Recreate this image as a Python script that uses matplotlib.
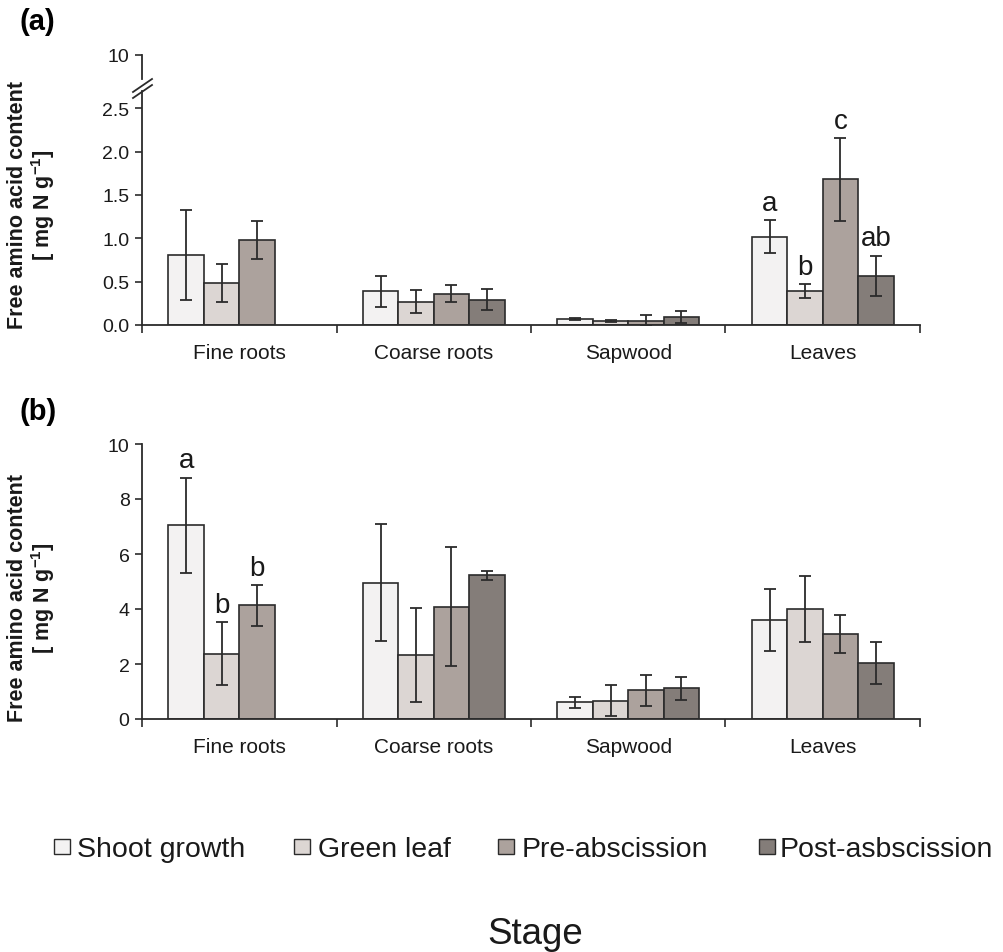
import numpy as np
import matplotlib
matplotlib.use("Agg")
import matplotlib.pyplot as plt
from matplotlib.patches import Rectangle
from matplotlib.lines import Line2D

plt.rcParams['font.family'] = ['Liberation Sans', 'DejaVu Sans']
plt.rcParams['mathtext.fontset'] = 'custom'
plt.rcParams['mathtext.rm'] = 'Liberation Sans'
plt.rcParams['mathtext.bf'] = 'Liberation Sans:bold'

organs = ["Fine roots", "Coarse roots", "Sapwood", "Leaves"]
stages = ["Shoot growth", "Green leaf", "Pre-abscission", "Post-asbscission"]
colors = ["#f3f2f2", "#dcd6d3", "#aca29d", "#847d79"]

# (a) mean and error per stage, one value per organ
a_shoot = [0.81, 0.39, 0.066, 1.02]
a_shoot_err = [0.52, 0.18, 0.01, 0.19]
a_green = [0.48, 0.27, 0.045, 0.39]
a_green_err = [0.22, 0.13, 0.015, 0.08]
a_pre = [0.98, 0.36, 0.05, 1.68]
a_pre_err = [0.22, 0.10, 0.065, 0.48]
a_post = [np.nan, 0.29, 0.096, 0.565]
a_post_err = [np.nan, 0.12, 0.07, 0.235]

# (b)
b_shoot = [7.05, 4.96, 0.61, 3.59]
b_shoot_err = [1.73, 2.14, 0.20, 1.12]
b_green = [2.37, 2.32, 0.67, 4.01]
b_green_err = [1.15, 1.70, 0.55, 1.20]
b_pre = [4.13, 4.09, 1.04, 3.08]
b_pre_err = [0.74, 2.17, 0.55, 0.69]
b_post = [np.nan, 5.23, 1.11, 2.04]
b_post_err = [np.nan, 0.17, 0.42, 0.77]

# significance letters: (organ index, stage index, letter)
a_letters = [(3, 0, "a"), (3, 1, "b"), (3, 2, "c"), (3, 3, "ab")]
b_letters = [(0, 0, "a"), (0, 1, "b"), (0, 2, "b")]

W, H = 1004, 953
fig = plt.figure(figsize=(W / 100, H / 100), dpi=100)


def px(x0, y_top, x1, y_bot):
    return [x0 / W, 1 - y_bot / H, (x1 - x0) / W, (y_bot - y_top) / H]


dark = "#2b2b2b"
bw = 0.182


def style(ax):
    for s in ["top", "right"]:
        ax.spines[s].set_visible(False)
    for s in ["left", "bottom"]:
        ax.spines[s].set_color(dark)
        ax.spines[s].set_linewidth(1.3)
    ax.tick_params(axis="y", direction="out", length=5, width=1.2,
                   color=dark, labelsize=14, pad=4, labelcolor="#1a1a1a")


def panel(ax, means, errs, letters):
    x = np.arange(len(organs)) + 0.5
    for i, (m, e) in enumerate(zip(means, errs)):
        xi = x + (i - 1.5) * bw
        ax.bar(xi, m, bw, color=colors[i], edgecolor=dark, linewidth=1.2,
               zorder=2)
        ax.errorbar(xi, m, yerr=e, fmt="none", ecolor=dark, elinewidth=1.3,
                    capsize=4, capthick=1.3, zorder=3)
    for o, s, t in letters:
        top = means[s][o] + errs[s][o]
        ax.annotate(t, (x[o] + (s - 1.5) * bw, top), xytext=(0, 3),
                    textcoords="offset points", ha="center", va="bottom",
                    fontsize=20, color="#1a1a1a")
    ax.set_xlim(0, len(organs))
    ax.set_xticks(np.arange(len(organs) + 1))
    ax.set_xticklabels([])
    ax.tick_params(axis="x", which="major", direction="out", length=6,
                   width=1.2, color=dark)
    ax.set_xticks(x, minor=True)
    ax.set_xticklabels(organs, minor=True)
    ax.tick_params(axis="x", which="minor", length=0, labelsize=15, pad=13,
                   labelcolor="#1a1a1a")
    style(ax)


# panel (a): broken axis, lower part 0-2.5 and a stub at 10
ax_a = fig.add_axes(px(142, 92, 920, 326))
panel(ax_a, [a_shoot, a_green, a_pre, a_post],
      [a_shoot_err, a_green_err, a_pre_err, a_post_err], a_letters)
ax_a.set_ylim(0, 2.70)
ax_a.set_yticks([0, 0.5, 1.0, 1.5, 2.0, 2.5])
ax_a.set_yticklabels(["0.0", "0.5", "1.0", "1.5", "2.0", "2.5"])

ax_top = fig.add_axes(px(142, 56, 920, 80))
ax_top.set_ylim(9.0, 10)
ax_top.set_xlim(0, 1)
ax_top.set_xticks([])
ax_top.set_yticks([10])
ax_top.patch.set_visible(False)
style(ax_top)
ax_top.spines["bottom"].set_visible(False)

# break marks on the y axis
for dy in (0, 6):
    fig.add_artist(Line2D([133 / W, 152 / W],
                          [1 - (93 + dy) / H, 1 - (80 + dy) / H],
                          color=dark, linewidth=1.3))

# panel (b)
ax_b = fig.add_axes(px(142, 445, 920, 720))
panel(ax_b, [b_shoot, b_green, b_pre, b_post],
      [b_shoot_err, b_green_err, b_pre_err, b_post_err], b_letters)
ax_b.set_ylim(0, 10)
ax_b.set_yticks([0, 2, 4, 6, 8, 10])

ylab = "Free amino acid content\n[ mg N g$^{\\mathbf{-1}}$]"
for yc in (205, 598):
    fig.text(32 / W, 1 - yc / H, ylab, rotation=90, ha="center",
             va="center", fontsize=15.5, fontweight="bold",
             multialignment="center", linespacing=1.05, color="#1a1a1a")

fig.text(20 / W, 1 - 22 / H, "(a)", fontsize=21, fontweight="bold",
         va="center", ha="left")
fig.text(20 / W, 1 - 412 / H, "(b)", fontsize=21, fontweight="bold",
         va="center", ha="left")

# legend row: swatch and label for each stage
swatch_x = [54, 294, 498, 759]
label_x = [77, 318, 522, 780]
for sx, lx, c, name in zip(swatch_x, label_x, colors, stages):
    fig.add_artist(Rectangle((sx / W, 1 - 855 / H), 16 / W, 15 / H,
                             facecolor=c, edgecolor=dark, linewidth=1.0,
                             transform=fig.transFigure))
    fig.text(lx / W, 1 - 850 / H, name, fontsize=20.5, ha="left",
             va="center", color="#1a1a1a")

fig.text(535 / W, 1 - 935 / H, "Stage", fontsize=26.5, ha="center",
         va="center", color="#1a1a1a")

fig.savefig("out.png", dpi=100, facecolor="white")
